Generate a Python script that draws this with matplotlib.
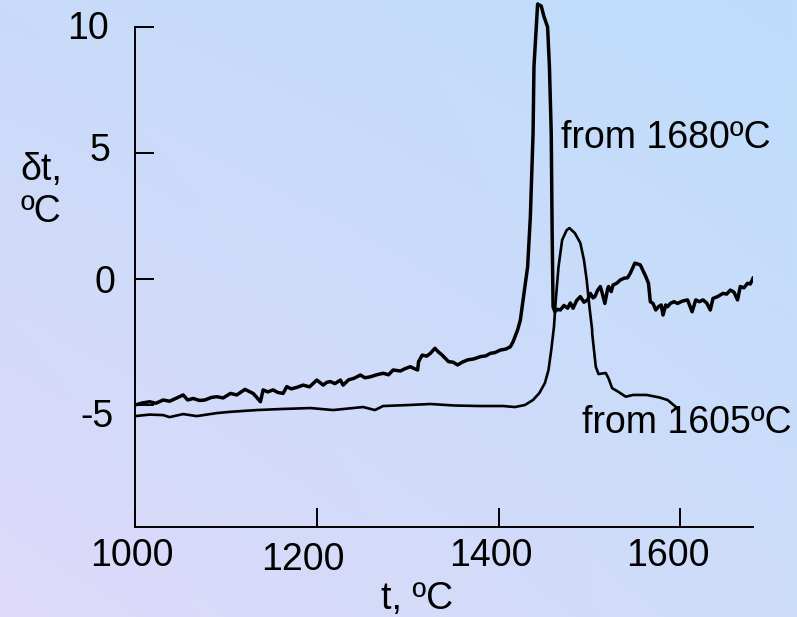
import matplotlib
matplotlib.use("Agg")
import matplotlib.pyplot as plt
import matplotlib.transforms as mtransforms
import numpy as np

plt.rcParams['font.family'] = ['Liberation Sans', 'DejaVu Sans']
plt.rcParams['axes.unicode_minus'] = False

# run cooled from 1680 C (thick, noisy)
t_1680 = [1000, 1008, 1016, 1023, 1031, 1038, 1046, 1053, 1058, 1064,
          1071, 1077, 1084, 1090, 1097, 1105, 1112, 1121, 1126, 1130,
          1134, 1138, 1141, 1146, 1152, 1157, 1163, 1167, 1172, 1178,
          1185, 1192, 1200, 1204, 1207, 1211, 1215, 1220, 1226, 1229,
          1235, 1241, 1248, 1253, 1259, 1266, 1273, 1279, 1284, 1292,
          1297, 1303, 1307, 1311, 1312, 1316, 1321, 1325, 1330, 1334,
          1338, 1345, 1350, 1355, 1360, 1366, 1373, 1380, 1386, 1391,
          1396, 1402, 1408, 1413, 1416, 1421, 1424, 1427, 1432, 1435,
          1438, 1439, 1442, 1443, 1447, 1450, 1454, 1456, 1458, 1459,
          1460, 1462, 1465, 1468, 1472, 1476, 1479, 1482, 1486, 1490,
          1494, 1498, 1501, 1504, 1506, 1509, 1512, 1514, 1517, 1520,
          1521, 1524, 1526, 1530, 1534, 1538, 1542, 1545, 1550, 1556,
          1562, 1565, 1567, 1570, 1573, 1576, 1579, 1581, 1584, 1586,
          1589, 1593, 1597, 1602, 1608, 1613, 1617, 1621, 1625, 1629,
          1633, 1636, 1641, 1647, 1651, 1655, 1659, 1663, 1666, 1670,
          1674, 1677, 1680]
dt_1680 = [-5.00, -4.92, -4.87, -4.93, -4.80, -4.85, -4.72, -4.60, -4.80, -4.74,
           -4.82, -4.80, -4.70, -4.67, -4.72, -4.54, -4.60, -4.38, -4.47, -4.54,
           -4.70, -4.87, -4.40, -4.48, -4.40, -4.50, -4.54, -4.27, -4.36, -4.30,
           -4.21, -4.28, -4.01, -4.12, -4.21, -4.10, -4.07, -4.15, -4.01, -4.21,
           -4.00, -3.94, -3.81, -3.92, -3.88, -3.80, -3.74, -3.80, -3.61, -3.65,
           -3.56, -3.48, -3.55, -3.61, -3.28, -3.02, -3.06, -2.95, -2.75, -2.90,
           -3.02, -3.28, -3.30, -3.41, -3.30, -3.21, -3.17, -3.08, -3.05, -2.95,
           -2.92, -2.82, -2.78, -2.69, -2.49, -2.02, -1.63, -0.83, 0.48, 2.46,
           5.79, 8.43, 10.28, 10.91, 10.83, 10.41, 10.00, 8.43, 5.79, 1.82,
           -1.10, -1.30, -1.20, -1.23, -1.05, -1.16, -0.95, -1.16, -0.85, -0.70,
           -0.92, -0.83, -0.57, -0.75, -0.70, -0.45, -0.30, -0.55, -0.97, -0.40,
           -0.30, -0.50, -0.24, -0.17, -0.04, 0.03, 0.05, 0.23, 0.63, 0.56,
           0.10, -0.17, -0.90, -0.97, -1.23, -1.10, -1.03, -1.43, -1.03, -1.10,
           -0.97, -0.90, -0.97, -0.88, -0.83, -1.30, -0.83, -0.90, -0.83, -0.95,
           -1.23, -0.77, -0.70, -0.57, -0.60, -0.44, -0.52, -0.83, -0.30, -0.35,
           -0.17, -0.20, 0.03]

# run cooled from 1605 C (thin)
t_1605 = [1000, 1016, 1031, 1038, 1053, 1068, 1090, 1105, 1134, 1160,
          1193, 1218, 1251, 1264, 1273, 1301, 1325, 1352, 1380, 1405,
          1418, 1429, 1438, 1445, 1451, 1455, 1458, 1461, 1463, 1466,
          1470, 1475, 1478, 1484, 1490, 1494, 1497, 1500, 1503, 1503,
          1507, 1510, 1518, 1521, 1525, 1532, 1540, 1548, 1563, 1577,
          1586, 1594, 1598]
dt_1605 = [-5.44, -5.38, -5.40, -5.48, -5.36, -5.44, -5.32, -5.27, -5.20, -5.16,
           -5.12, -5.20, -5.08, -5.20, -5.04, -5.00, -4.96, -5.02, -5.04, -5.04,
           -5.08, -5.00, -4.80, -4.52, -4.13, -3.61, -2.82, -1.90, -0.83, 0.48,
           1.55, 1.94, 2.02, 1.82, 1.43, 0.75, -0.04, -1.10, -2.02, -2.14,
           -3.48, -3.77, -3.73, -3.94, -4.33, -4.48, -4.67, -4.60, -4.60, -4.70,
           -4.80, -5.04, -5.20]

xticks = [1000, 1200, 1400, 1600]
yticks = [-5, 0, 5, 10]

fig = plt.figure(figsize=(7.97, 6.17), dpi=100)

# gradient background (bilinear between corner colours)
tl = np.array([201, 219, 249]) / 255
tr = np.array([190, 221, 251]) / 255
bl = np.array([223, 217, 250]) / 255
br = np.array([205, 221, 249]) / 255
u = np.linspace(0, 1, 200)[None, :, None]
v = np.linspace(0, 1, 160)[:, None, None]
grad = (1 - v) * ((1 - u) * tl + u * tr) + v * ((1 - u) * bl + u * br)
bg = fig.add_axes([0, 0, 1, 1])
bg.imshow(grad, aspect='auto', extent=[0, 1, 0, 1])
bg.axis('off')

ax = fig.add_axes([135 / 797, 90 / 617, 618 / 797, 527 / 617])
ax.patch.set_alpha(0)
ax.plot(t_1680, dt_1680, color='black', lw=2.5, solid_joinstyle='round')
ax.plot(t_1605, dt_1605, color='black', lw=1.9, solid_joinstyle='round')

ax.set_xlim(1000, 1680)
ax.set_ylim(-9.84, 11.07)
ax.spines['top'].set_visible(False)
ax.spines['right'].set_visible(False)
ax.spines['left'].set_bounds(-9.84, 10)
ax.spines['left'].set_linewidth(1.4)
ax.spines['bottom'].set_linewidth(1.4)
ax.set_xticks(xticks)
ax.set_yticks(yticks)
ax.tick_params(direction='in', length=14, width=1.4, labelsize=27)
ax.tick_params(axis='y', pad=14)
ax.tick_params(axis='x', pad=8)

# the scanned labels sit a little off their ticks (pixels)
x_shift = [-3, -14, -8, -12]
x_drop = [0, 4, 0, 0]
for lab, dx, dy in zip(ax.get_xticklabels(), x_shift, x_drop):
    lab.set_transform(lab.get_transform() +
                      mtransforms.ScaledTranslation(dx / 100, -dy / 100, fig.dpi_scale_trans))
y_shift = [-2, 0, -5, -7]
y_drop = [8, 0, -6, -2]
for lab, dx, dy in zip(ax.get_yticklabels(), y_shift, y_drop):
    lab.set_transform(lab.get_transform() +
                      mtransforms.ScaledTranslation(dx / 100, -dy / 100, fig.dpi_scale_trans))

ax.text(417 / 797, 8 / 617, 't, ºC', transform=fig.transFigure, fontsize=27,
        ha='center', va='baseline')
ax.text(41 / 797, 1 - 191 / 617, 'δt,\nºC', transform=fig.transFigure,
        fontsize=27, ha='center', va='center', linespacing=1.2)
ax.text(1469, 5.6, 'from 1680ºC', fontsize=27, ha='left', va='center')
ax.text(1492, -5.7, 'from 1605ºC', fontsize=27, ha='left', va='center')

fig.savefig('out.png', dpi=100)
